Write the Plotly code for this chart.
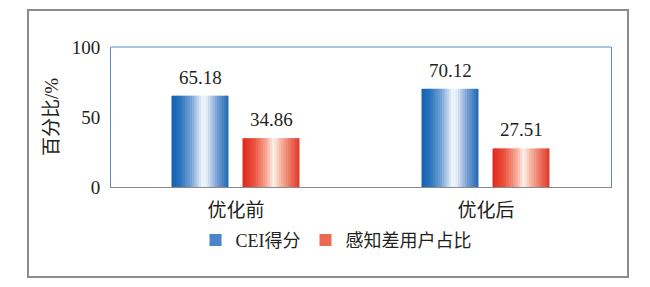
import plotly.graph_objects as go

# ---- data ----
categories = ["优化前", "优化后"]
series_names = ["CEI得分", "感知差用户占比"]
cei_values = [65.18, 70.12]
poor_user_share = [34.86, 27.51]
y_ticks = [0, 50, 100]

# ---- style ----
FONT = "Liberation Serif, Times New Roman, Noto Sans CJK SC, serif"
TXT = "#231f20"
BLUE_STOPS = [(0.0, (18, 98, 176)), (0.15, (40, 115, 188)), (0.35, (120, 165, 215)),
              (0.55, (245, 248, 252)), (0.62, (225, 235, 247)), (0.8, (120, 160, 212)),
              (1.0, (30, 105, 180))]
RED_STOPS = [(0.0, (222, 40, 30)), (0.2, (235, 80, 60)), (0.4, (245, 160, 140)),
             (0.55, (253, 242, 236)), (0.65, (246, 190, 170)), (0.85, (236, 110, 90)),
             (1.0, (225, 55, 40))]
LEGEND_COLORS = ["#4a86c8", "#ec6a55"]
N = 25
BAR_W = 0.228
OFFSETS = [-0.258, 0.026]


def interp(stops, t):
    for (p0, c0), (p1, c1) in zip(stops[:-1], stops[1:]):
        if p0 <= t <= p1:
            f = (t - p0) / (p1 - p0)
            c = [round(a + (b - a) * f) for a, b in zip(c0, c1)]
            return f"rgb({c[0]},{c[1]},{c[2]})"
    c = stops[-1][1]
    return f"rgb({c[0]},{c[1]},{c[2]})"


x_pos = list(range(len(categories)))
fig = go.Figure()
annotations = []
for s, (vals, stops) in enumerate([(cei_values, BLUE_STOPS), (poor_user_share, RED_STOPS)]):
    for i in range(N):
        t = (i + 0.5) / N
        w = BAR_W / N * (1.6 if i < N - 1 else 1.0)
        fig.add_trace(go.Bar(
            x=x_pos, y=vals, width=w, offset=OFFSETS[s] + i * BAR_W / N,
            marker=dict(color=interp(stops, t), line=dict(width=0)),
            showlegend=False, hoverinfo="skip"))
    fig.add_trace(go.Bar(x=[None], y=[None], name=series_names[s],
                         marker=dict(color=LEGEND_COLORS[s], line=dict(width=0))))
    for j, v in enumerate(vals):
        annotations.append(dict(x=x_pos[j] + OFFSETS[s] + BAR_W / 2, y=v, xref="x", yref="y",
                                text=f"{v:.2f}", showarrow=False, yanchor="bottom", yshift=6,
                                font=dict(family=FONT, size=19, color=TXT)))

fig.update_layout(
    width=650, height=287,
    margin=dict(l=111, r=39, t=47, b=100),
    paper_bgcolor="white", plot_bgcolor="white",
    barmode="overlay",
    font=dict(family=FONT, size=19, color=TXT),
    annotations=annotations,
    legend=dict(orientation="h", x=0.45, xanchor="center", y=-0.38, yanchor="middle",
                font=dict(family=FONT, size=18, color=TXT), bgcolor="rgba(0,0,0,0)"),
    shapes=[
        dict(type="rect", xref="paper", yref="paper", x0=-0.166, x1=1.034, y0=-0.643, y1=1.264,
             line=dict(color="#8c8c8c", width=2), layer="below"),
        dict(type="line", xref="paper", yref="paper", x0=0, x1=1, y0=1, y1=1,
             line=dict(color="#5b8cc0", width=1)),
    ],
)
fig.update_xaxes(range=[-0.5, 1.5], tickvals=x_pos, ticktext=categories, showgrid=False,
                 zeroline=False, showline=True, linecolor="#8a8a8a", linewidth=1, ticks="",
                 ticklabelstandoff=6, tickfont=dict(size=19))
fig.update_yaxes(range=[0, 100], tickvals=y_ticks, showgrid=False, zeroline=False,
                 showline=True, mirror=True, linecolor="#5b8cc0", linewidth=1, ticks="",
                 ticklabelstandoff=6, tickfont=dict(size=19),
                 title=dict(text="百分比/%", standoff=8, font=dict(size=19)))

fig.write_html("out.html")
